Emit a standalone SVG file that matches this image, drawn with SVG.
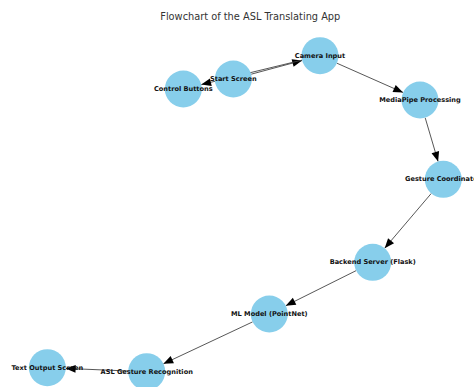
<svg xmlns="http://www.w3.org/2000/svg" width="474" height="387" viewBox="0 0 474 387">
<style>
.n{fill:#87CEEB}
.l{font-family:"DejaVu Sans",sans-serif;font-weight:bold;font-size:6.6px;fill:#111;text-anchor:middle;dominant-baseline:central}
.e{stroke:#444;stroke-width:0.9;fill:none;marker-end:url(#ah)}
.t{font-family:"DejaVu Sans",sans-serif;font-size:9.8px;fill:#333;text-anchor:middle}
</style>
<defs>
<marker id="ah" markerUnits="userSpaceOnUse" markerWidth="12" markerHeight="10" viewBox="-10 -4 11 8" refX="0" refY="0" orient="auto">
<path d="M-9,-3.6 L0,0 L-9,3.6 Z" fill="#000"/>
</marker>
</defs>
<rect width="474" height="387" fill="#fff"/>
<text class="t" x="250.3" y="20">Flowchart of the ASL Translating App</text>
<g id="edges">
<line class="e" x1="251.2" y1="74.2" x2="302.1" y2="60.5"/>
<line class="e" x1="302.0" y1="60.1" x2="201.3" y2="84.6"/>
<line class="e" x1="336.9" y1="63.2" x2="403.1" y2="92.5"/>
<line class="e" x1="425.2" y1="117.8" x2="438.1" y2="161.5"/>
<line class="e" x1="431.3" y1="193.4" x2="384.7" y2="248.2"/>
<line class="e" x1="356.2" y1="270.6" x2="285.8" y2="305.7"/>
<line class="e" x1="252.6" y1="321.9" x2="163.4" y2="363.8"/>
<line class="e" x1="128.2" y1="371" x2="65.8" y2="368.4"/>
</g>
<g id="start"><circle class="n" cx="233.3" cy="79" r="18.5"/><text class="l" x="233.3" y="79">Start Screen</text></g>
<g id="camera"><circle class="n" cx="320" cy="55.7" r="18.5"/><text class="l" x="320" y="55.7">Camera Input</text></g>
<g id="control"><circle class="n" cx="183.3" cy="89" r="18.5"/><text class="l" x="183.3" y="89">Control Buttons</text></g>
<g id="mediapipe"><circle class="n" cx="420" cy="100" r="18.5"/><text class="l" x="420" y="100">MediaPipe Processing</text></g>
<g id="gesture"><circle class="n" cx="443.3" cy="179.3" r="18.5"/><text class="l" x="443.3" y="179.3">Gesture Coordinates</text></g>
<g id="backend"><circle class="n" cx="372.7" cy="262.3" r="18.5"/><text class="l" x="372.7" y="262.3">Backend Server (Flask)</text></g>
<g id="ml"><circle class="n" cx="269.3" cy="314" r="18.5"/><text class="l" x="269.3" y="314">ML Model (PointNet)</text></g>
<g id="asl"><circle class="n" cx="146.7" cy="371.7" r="18.5"/><text class="l" x="146.7" y="371.7">ASL Gesture Recognition</text></g>
<g id="text"><circle class="n" cx="47.3" cy="367.7" r="18.5"/><text class="l" x="47.3" y="367.7">Text Output Screen</text></g>
</svg>
